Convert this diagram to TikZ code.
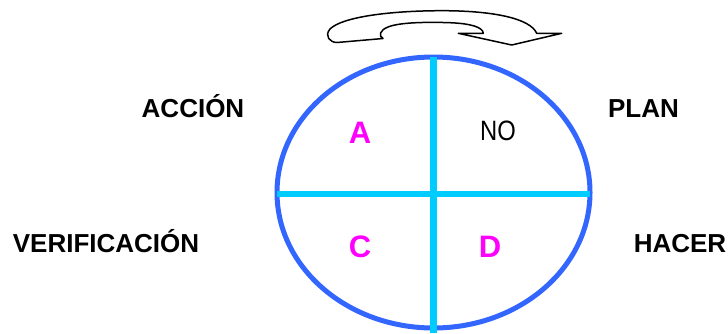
\documentclass[tikz,border=0pt]{standalone}
\usepackage{fontspec}
\usetikzlibrary{shapes.geometric}
\setmainfont{Liberation Sans}
\newfontfamily\narrowfont[FakeStretch=0.85]{Liberation Sans}
\definecolor{ringblue}{HTML}{3366FF}
\definecolor{crosscyan}{HTML}{00CCFF}
\definecolor{lettermag}{HTML}{FF00FF}
\begin{document}
\begin{tikzpicture}[x=1pt,y=-1pt,
  side/.style={inner sep=0pt,anchor=base,font=\bfseries\fontsize{26}{31}\selectfont},
  quad/.style={inner sep=0pt,anchor=base,text=lettermag,font=\bfseries\fontsize{31}{37}\selectfont},
  ring/.style={draw=ringblue,line width=5pt},
  crossline/.style={draw=crosscyan,line width=6pt}]
\useasboundingbox (0,0) rectangle (728,333);
% ring
\node[ring,ellipse,minimum width=313pt,minimum height=271pt,inner sep=0pt] (ring) at (433.5,192.5) {};
% cross
\coordinate (vtop) at (433,56.5);
\coordinate (vbot) at (433,333);
\coordinate (hl) at (277,194);
\coordinate (hr) at (589.5,194);
\draw[crossline] (hl) -- (hr);
\draw[crossline,line width=7pt] (vtop) -- (vbot);
% quadrant letters
\node[quad] (qa) at (360,143.5) {A};
\node[quad] (qc) at (360,257) {C};
\node[quad] (qd) at (490,257) {D};
\node[inner sep=0pt,anchor=base,font=\narrowfont\fontsize{28}{34}\selectfont] (qno) at (498,140.3) {NO};
% side labels
\node[side] (accion) at (193,117.5) {ACCIÓN};
\node[side] (plan) at (643.5,117.5) {PLAN};
\node[side] (verif) at (106,252) {VERIFICACIÓN};
\node[side] (hacer) at (680,252) {HACER};
% curved arrow at top
\draw[line width=1.5pt,line join=round] (483.3,33.3) -- (458.3,33.3) -- (511.7,45) -- (561.7,33.3) -- (536.7,33.3)
  .. controls (530,18) and (492,11) .. (445,10.7)
  .. controls (390,10.5) and (342,17) .. (330,29)
  .. controls (324,36) and (330,42.5) .. (337,42.5)
  -- (383,38.5)
  .. controls (378,36) and (380,30) .. (388,27)
  .. controls (400,22) and (430,22) .. (450,22.7)
  .. controls (470,23.5) and (483,27) .. (483.3,33.3) -- cycle;
\end{tikzpicture}
\end{document}
